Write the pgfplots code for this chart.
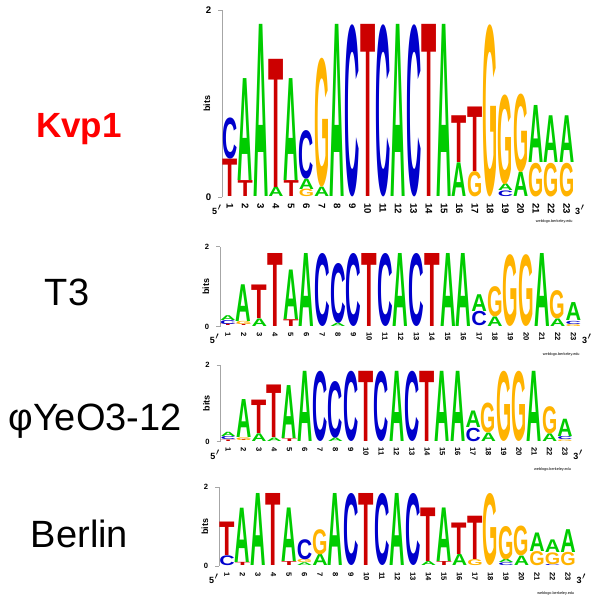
\documentclass[border=0pt]{standalone}
\usepackage{pgfplots}
\pgfplotsset{compat=1.18}
\usepackage{graphicx}
\usepackage{fontspec}
\setmainfont{Liberation Sans}

\definecolor{colA}{RGB}{0,204,0}
\definecolor{colC}{RGB}{0,0,204}
\definecolor{colG}{RGB}{255,179,0}
\definecolor{colT}{RGB}{204,0,0}

% letter heights (bits) per position, bottom to top
\def\kvpdata{1/{T/0.40,C/0.44}, 2/{T/0.17,A/1.09}, 3/{A/1.84}, 4/{A/0.10,T/1.37},
 5/{T/0.17,A/1.09}, 6/{G/0.08,A/0.11,C/0.52}, 7/{A/0.10,G/1.38}, 8/{A/1.84},
 9/{C/1.84}, 10/{T/1.84}, 11/{C/1.84}, 12/{A/1.84}, 13/{C/1.84}, 14/{T/1.84},
 15/{A/1.84}, 16/{A/0.36,T/0.50}, 17/{G/0.27,T/0.69}, 18/{G/1.84},
 19/{C/0.06,A/0.07,G/0.96}, 20/{A/0.26,G/0.84}, 21/{G/0.36,A/0.61},
 22/{G/0.36,A/0.50}, 23/{G/0.36,A/0.50}}
\def\tthreedata{1/{T/0.04,C/0.10,A/0.12}, 2/{T/0.03,G/0.08,A/0.92}, 3/{A/0.19,T/0.84},
 4/{T/1.83}, 5/{T/0.17,A/1.24}, 6/{A/1.83}, 7/{C/1.83}, 8/{A/0.08,C/1.50},
 9/{C/1.83}, 10/{T/1.83}, 11/{C/1.83}, 12/{A/1.83}, 13/{C/1.83}, 14/{T/1.83},
 15/{A/1.83}, 16/{A/1.83}, 17/{C/0.36,A/0.42}, 18/{A/0.24,G/0.76}, 19/{G/1.80},
 20/{G/1.80}, 21/{A/1.83}, 22/{A/0.19,G/0.71}, 23/{G/0.05,C/0.08,A/0.45}}
\def\yeodata{1/{T/0.04,C/0.08,A/0.11}, 2/{T/0.03,G/0.07,A/0.99}, 3/{A/0.20,T/0.87},
 4/{A/0.09,T/1.37}, 5/{T/0.07,A/1.38}, 6/{A/1.83}, 7/{C/1.83}, 8/{A/0.09,C/1.48},
 9/{C/1.83}, 10/{T/1.83}, 11/{C/1.83}, 12/{A/1.83}, 13/{C/1.83}, 14/{T/1.83},
 15/{A/1.83}, 16/{A/1.83}, 17/{C/0.35,A/0.43}, 18/{A/0.22,G/0.78}, 19/{G/1.83},
 20/{G/1.83}, 21/{A/1.83}, 22/{A/0.20,G/0.71}, 23/{G/0.04,C/0.08,A/0.45}}
\def\berlindata{1/{C/0.25,T/0.85}, 2/{T/0.08,A/1.38}, 3/{A/1.83}, 4/{T/1.83},
 5/{T/0.10,A/1.36}, 6/{A/0.07,G/0.08,C/0.51}, 7/{A/0.28,G/0.64}, 8/{A/1.83},
 9/{C/1.83}, 10/{T/1.83}, 11/{C/1.83}, 12/{A/1.83}, 13/{C/1.83},
 14/{A/0.10,T/1.36}, 15/{T/0.10,A/1.36}, 16/{A/0.28,T/0.80}, 17/{G/0.15,T/1.10},
 18/{G/1.83}, 19/{C/0.07,A/0.08,G/0.85}, 20/{A/0.24,G/0.76}, 21/{G/0.36,A/0.47},
 22/{C/0.03,G/0.30,A/0.32}, 23/{G/0.34,A/0.58}}

% #1 letter width, #2 length of one bit, #3 data macro
\newcommand\drawlogo[3]{%
  \foreach \p/\lst in #3{%
    \gdef\ybase{0}%
    \foreach \L/\h in \lst{%
      \pgfmathsetlengthmacro\hh{\h*#2}%
      \edef\tmp{\noexpand\node[inner sep=0pt,anchor=south,text=col\L]
        at (axis cs:\p,\ybase) {\noexpand\resizebox*{#1}{\hh}{\noexpand\bfseries \L}};}%
      \tmp
      \pgfmathsetmacro\nb{\ybase+\h}%
      \xdef\ybase{\nb}%
    }%
  }%
}

\pgfplotsset{
  logo/.style={
    scale only axis, clip=false,
    xmin=0.5, xmax=23.5, ymin=0, ymax=2,
    axis lines=left, axis line style={-},
    x axis line style={draw=none},
    y axis line style={gray!70, line width=0.5pt},
    xtick={1,...,23}, ytick={0,2},
    major x tick style={draw=none},
    y tick style={gray!70, line width=0.5pt},
    tick align=outside, major tick length=2pt,
    /pgf/number format/assume math mode=true,
    xticklabel={\rotatebox{-90}{\pgfmathprintnumber{\tick}}},
    ylabel={\bfseries bits},
    ylabel style={font=\fontsize{4.5pt}{5pt}\selectfont, yshift=-9pt},
  },
  tl/.style={
    y tick label style={font=\fontsize{#1}{5pt}\selectfont\bfseries},
    x tick label style={font=\fontsize{#1}{5pt}\selectfont\bfseries,
      anchor=north, inner sep=0.8pt},
  },
}

\newcommand\logoends[1]{%
  \node[font=\fontsize{4.5pt}{5pt}\selectfont\bfseries] at (rel axis cs:0,0) [xshift=-2.5pt, yshift=-6.3pt] {5$'$};
  \node[font=\fontsize{4.5pt}{5pt}\selectfont\bfseries] at (rel axis cs:1,0) [xshift=3pt, yshift=-6.3pt] {3$'$};
  \node[font=\fontsize{1.9pt}{2pt}\selectfont, anchor=north] at (rel axis cs:1,0) [xshift=-10pt, yshift=-#1] {weblogo.berkeley.edu};
}

\begin{document}
\begin{tikzpicture}

\begin{axis}[logo, tl=4.8pt, width=175.95pt, height=93.5pt, at={(111.18pt,-98.5pt)}, anchor=south west]
  \drawlogo{7.6pt}{46.75pt}{\kvpdata}
  \logoends{8pt}
\end{axis}

\begin{axis}[logo, tl=3.8pt, width=180.55pt, height=39.9pt, at={(110.08pt,-163.25pt)}, anchor=south west]
  \drawlogo{7.8pt}{19.95pt}{\tthreedata}
  \logoends{9.5pt}
\end{axis}

\begin{axis}[logo, tl=3.8pt, width=175.95pt, height=38.35pt, at={(110.33pt,-220.85pt)}, anchor=south west]
  \drawlogo{7.6pt}{19.18pt}{\yeodata}
  \logoends{9.5pt}
\end{axis}

\begin{axis}[logo, tl=3.8pt, width=178.25pt, height=39.35pt, at={(109.63pt,-283pt)}, anchor=south west]
  \drawlogo{7.7pt}{19.68pt}{\berlindata}
  \logoends{9.5pt}
\end{axis}

\node[anchor=base, text=red, font=\fontsize{17.5pt}{20pt}\selectfont\bfseries] at (39.5pt,-68.5pt) {Kvp1};
\node[anchor=base, font=\fontsize{19pt}{22pt}\selectfont] at (33.5pt,-152.5pt) {T3};
\node[anchor=base, font=\fontsize{19pt}{22pt}\selectfont] at (47.5pt,-215pt) {φYeO3-12};
\node[anchor=base, font=\fontsize{19pt}{22pt}\selectfont] at (39.75pt,-273.5pt) {Berlin};

\pgfresetboundingbox
\path[use as bounding box] (0pt,0pt) rectangle (300pt,-303pt);
\end{tikzpicture}
\end{document}
